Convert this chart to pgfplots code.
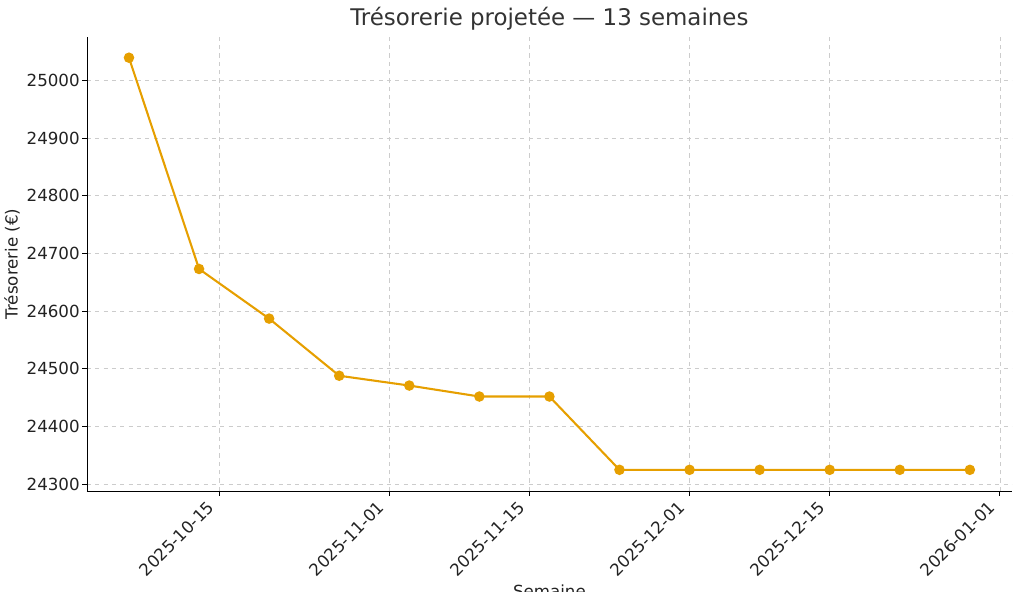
\documentclass[border=0pt]{standalone}
\usepackage{pgfplots}
\pgfplotsset{compat=1.18}
\usepackage{fontspec}
\setmainfont{DejaVu Sans}
\definecolor{lineorange}{HTML}{E69F00}
\definecolor{gridgray}{HTML}{CCCCCC}
\definecolor{titlegray}{HTML}{333333}
\definecolor{ticktext}{HTML}{222222}
\begin{document}
\begin{tikzpicture}
\path[use as bounding box] (0,0) rectangle (733pt,426.2pt);
\begin{axis}[
  at={(62.6pt,72.7pt)}, anchor=south west,
  scale only axis,
  width=666pt, height=326.9pt,
  xmin=0.8, xmax=93.2,
  ymin=24288.4, ymax=25075,
  axis x line*=bottom, axis y line*=left,
  axis line style={black, line width=0.6pt},
  xtick={14,31,45,61,75,92},
  xticklabels={2025-10-15,2025-11-01,2025-11-15,2025-12-01,2025-12-15,2026-01-01},
  ytick={24300,24400,24500,24600,24700,24800,24900,25000},
  scaled y ticks=false,
  yticklabel={\pgfmathprintnumber[fixed,precision=0,1000 sep={}]{\tick}},
  tick align=outside,
  major tick length=3.5pt,
  tick style={black, line width=0.6pt},
  xmajorgrids, ymajorgrids,
  grid style={gridgray, dashed, line width=0.5pt},
  /pgf/number format/assume math mode=true,
  /pgf/number format/1000 sep={},
  ticklabel style={font=\fontsize{12pt}{14pt}\selectfont, text=ticktext},
  yticklabel style={inner xsep=1.5pt},
  xticklabel style={xshift=-5pt, yshift=-5.5pt, rotate=45, anchor=east, inner sep=1pt},
  title={Trésorerie projetée — 13 semaines},
  title style={at={(0.5,1)}, anchor=base, yshift=2.2pt, font=\fontsize{16.5pt}{19pt}\selectfont, text=titlegray},
  ylabel={Trésorerie (€)},
  ylabel style={at={(axis description cs:-0.081,0.5)}, anchor=center, font=\fontsize{12pt}{14pt}\selectfont, text=ticktext},
  xlabel={Semaine},
  xlabel style={at={(axis description cs:0.5,0)}, anchor=north, yshift=-64pt, font=\fontsize{12pt}{14pt}\selectfont, text=ticktext},
  clip=false,
]
\addplot[lineorange, line width=1.5pt, mark=*, mark size=3pt, mark options={fill=lineorange, draw=lineorange}]
coordinates {
(5,25039) (12,24673) (19,24587) (26,24488) (33,24471) (40,24452) (47,24452)
(54,24325) (61,24325) (68,24325) (75,24325) (82,24325) (89,24325)
};
\end{axis}
\end{tikzpicture}
\end{document}
